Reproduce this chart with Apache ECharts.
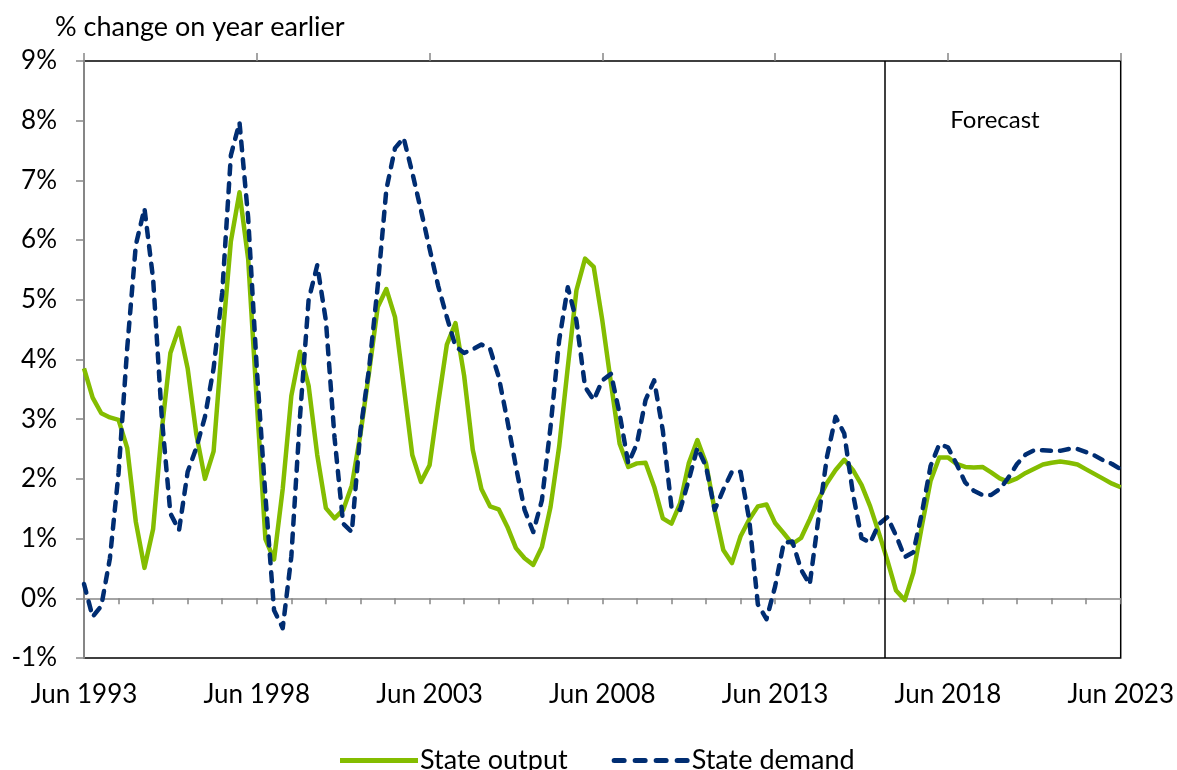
<!DOCTYPE html>
<html>
<head>
<meta charset="utf-8">
<script src="https://cdn.jsdelivr.net/npm/echarts@6/dist/echarts.min.js"></script>
<style>
html,body{margin:0;padding:0;background:#fff;}
#chart{width:1177px;height:770px;}
</style>
</head>
<body>
<div id="chart"></div>
<script>
// Quarterly data, Jun 1993 (index 0) to Jun 2023 (index 120)
var stateOutput = [
3.85,3.36,3.10,3.03,2.99,2.52,1.28,0.51,1.16,2.81,
4.11,4.53,3.85,2.75,2.00,2.46,4.30,5.98,6.80,5.69,
3.30,0.99,0.65,1.83,3.39,4.13,3.56,2.40,1.51,1.34,
1.48,1.89,2.75,3.79,4.88,5.18,4.71,3.56,2.40,1.95,
2.23,3.27,4.25,4.61,3.73,2.49,1.83,1.54,1.49,1.20,
0.84,0.67,0.56,0.86,1.53,2.54,3.87,5.16,5.69,5.55,
4.65,3.60,2.59,2.20,2.26,2.27,1.87,1.34,1.25,1.59,
2.26,2.65,2.26,1.48,0.81,0.59,1.04,1.32,1.54,1.57,
1.26,1.09,0.91,1.01,1.32,1.65,1.93,2.15,2.32,2.15,
1.90,1.54,1.10,0.63,0.13,-0.03,0.43,1.22,1.97,2.36,
2.36,2.25,2.20,2.19,2.20,2.11,2.01,1.95,2.01,2.10,
2.17,2.24,2.27,2.29,2.27,2.24,2.16,2.08,2.00,1.92,
1.86
];
var stateDemand = [
0.24,-0.31,-0.13,0.67,2.10,4.19,5.92,6.53,5.35,3.04,
1.42,1.14,2.12,2.52,3.04,3.85,5.12,7.42,7.97,6.38,
3.85,1.71,-0.20,-0.50,0.70,3.04,5.00,5.58,4.65,2.69,
1.25,1.11,2.81,3.85,5.23,6.85,7.54,7.71,7.13,6.50,
5.86,5.23,4.71,4.22,4.11,4.17,4.25,4.18,3.71,2.98,
2.20,1.48,1.11,1.64,2.87,4.32,5.21,4.65,3.54,3.32,
3.65,3.76,3.09,2.26,2.59,3.32,3.65,2.81,1.53,1.48,
1.98,2.52,2.21,1.48,1.82,2.12,2.12,1.32,-0.10,-0.35,
0.20,0.93,0.95,0.48,0.23,1.32,2.37,3.04,2.76,1.76,
1.01,0.93,1.24,1.36,1.05,0.69,0.77,1.44,2.22,2.58,
2.53,2.25,1.94,1.80,1.73,1.73,1.83,2.02,2.25,2.41,
2.48,2.48,2.47,2.47,2.50,2.50,2.45,2.39,2.31,2.25,
2.16
];
var xTickLabels = ['Jun 1993','Jun 1998','Jun 2003','Jun 2008','Jun 2013','Jun 2018','Jun 2023'];
var forecastStart = 92.7; // quarter index where the forecast begins
var seriesNames = ['State output','State demand'];

function pairs(arr){ return arr.map(function(v,i){ return [i, v]; }); }

var FONT = 'Lato';
var GREEN = '#84BD00';
var BLUE = '#002D72';
var chart = echarts.init(document.getElementById('chart'));
var axisGray = '#868686';

function dash(x0, x1){
  // rounded dash, height 5
  return 'M' + (x0 + 2.5) + ',0H' + (x1 - 2.5) + 'A2.5,2.5 0 0 1 ' + (x1 - 2.5) + ',5H' + (x0 + 2.5) + 'A2.5,2.5 0 0 1 ' + (x0 + 2.5) + ',0Z';
}
var dashedIcon = 'path://' + dash(0, 15) + dash(21, 36) + dash(42, 57) + dash(63, 78);
var solidIcon = 'path://M0,0H78V5H0Z';

chart.setOption({
  backgroundColor: '#fff',
  animation: false,
  title: {
    text: '% change on year earlier',
    left: 50, top: 9,
    textStyle: { fontFamily: FONT, fontSize: 27, fontWeight: 'normal', color: '#000' }
  },
  graphic: [{
    type: 'text',
    x: 995, y: 120,
    style: { text: 'Forecast', fill: '#000', font: '24px Lato', textAlign: 'center', textVerticalAlign: 'middle' }
  }],
  legend: {
    left: 335, top: 742,
    itemWidth: 78, itemHeight: 5, itemGap: 44,
    textStyle: { fontFamily: FONT, fontSize: 27, color: '#000', padding: [0,0,0,-3] },
    data: [
      { name: seriesNames[0], icon: solidIcon, itemStyle: { color: GREEN } },
      { name: seriesNames[1], icon: dashedIcon, itemStyle: { color: BLUE } }
    ]
  },
  grid: {
    left: 84, right: 55, top: 61, bottom: 112,
    show: true, borderColor: '#000', borderWidth: 1.5, backgroundColor: 'transparent'
  },
  xAxis: [
    {
      type: 'value', min: 0, max: 120, interval: 4,
      axisLine: { show: true, onZero: true, lineStyle: { color: axisGray, width: 1.5 } },
      axisTick: { show: true, length: 6, lineStyle: { color: axisGray, width: 1.5 } },
      axisLabel: { show: false },
      splitLine: { show: false }
    },
    {
      type: 'value', min: 0, max: 120, interval: 20,
      axisLine: { show: false, onZero: true },
      axisTick: { show: true, length: 8, lineStyle: { color: axisGray, width: 1.5 } },
      axisLabel: { show: false },
      splitLine: { show: false }
    },
    {
      type: 'value', min: 0, max: 120, interval: 20, position: 'bottom',
      axisLine: { show: false, onZero: false },
      axisTick: { show: false },
      axisLabel: {
        show: true, margin: 24, fontFamily: FONT, fontSize: 26, color: '#000',
        formatter: function(v){ return xTickLabels[Math.round(v/20)]; }
      },
      splitLine: { show: false }
    }
  ],
  yAxis: {
    type: 'value', min: -1, max: 9, interval: 1,
    axisLine: { show: true, lineStyle: { color: axisGray, width: 2 } },
    axisTick: { show: true, length: 8, lineStyle: { color: axisGray, width: 1.5 } },
    axisLabel: { margin: 27, fontFamily: FONT, fontSize: 26, color: '#000', formatter: '{value}%' },
    splitLine: { show: false }
  },
  series: [
    {
      name: seriesNames[0], type: 'line', xAxisIndex: 0,
      data: pairs(stateOutput), symbol: 'none', smooth: false,
      lineStyle: { color: GREEN, width: 4.5, join: 'round' },
      itemStyle: { color: GREEN },
      z: 3,
      markLine: {
        silent: true, symbol: 'none', label: { show: false },
        lineStyle: { color: '#000', width: 1.5, type: 'solid' },
        data: [{ xAxis: forecastStart }]
      }
    },
    {
      name: seriesNames[1], type: 'line', xAxisIndex: 0,
      data: pairs(stateDemand), symbol: 'none', smooth: false,
      lineStyle: { color: BLUE, width: 4.5, type: [9, 9], cap: 'round', join: 'round' },
      itemStyle: { color: BLUE },
      z: 4
    }
  ]
});
</script>
</body>
</html>
